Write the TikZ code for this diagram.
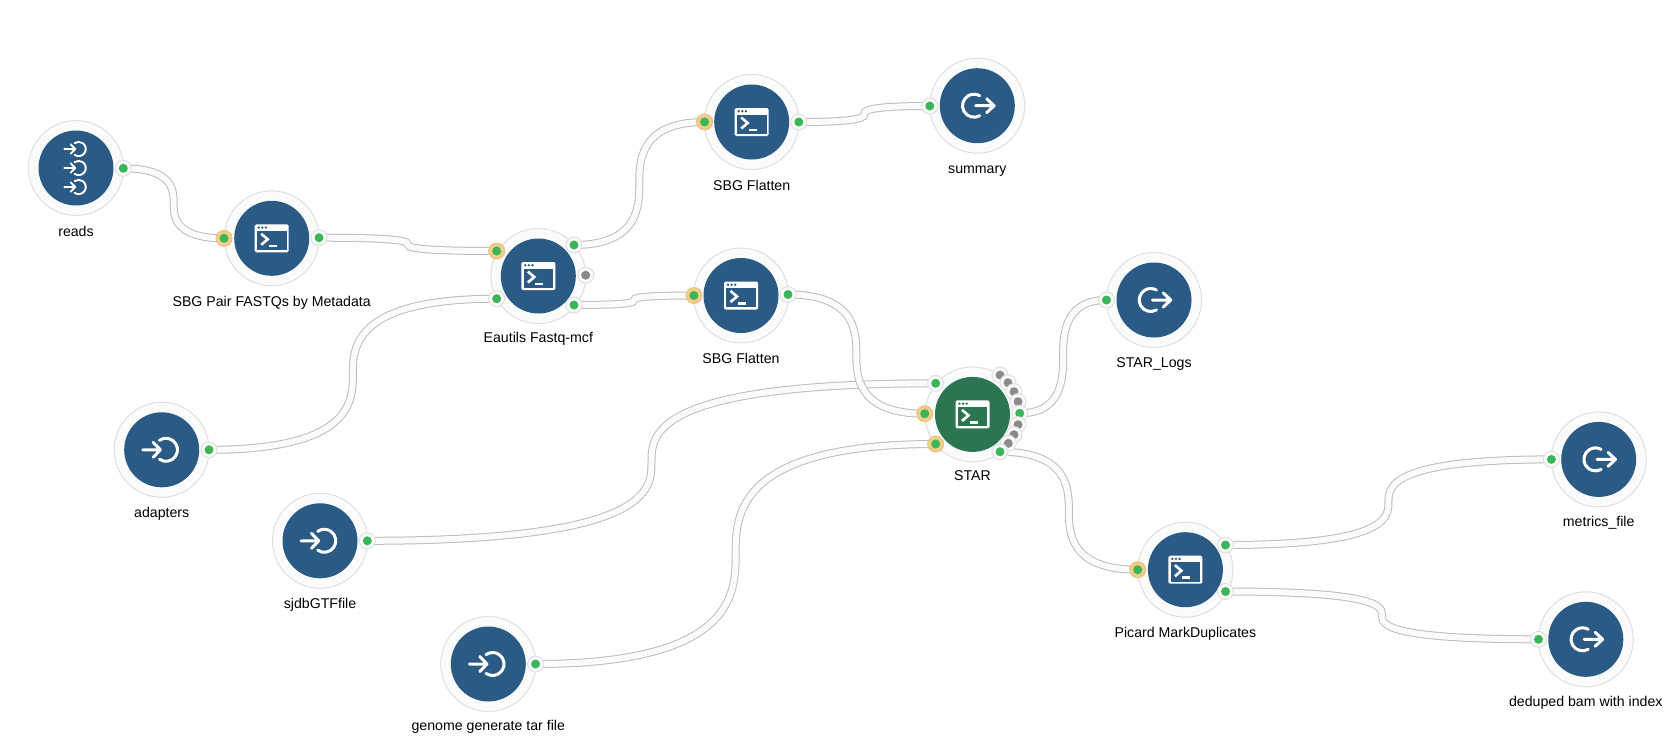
\documentclass[tikz,border=0pt]{standalone}
\usepackage{fontspec}
\setmainfont{Liberation Sans}
\usetikzlibrary{calc,backgrounds}
\definecolor{nodeblue}{HTML}{2B5A84}
\definecolor{nodegreen}{HTML}{2B7551}
\definecolor{ringfill}{HTML}{FAFBFB}
\definecolor{ringline}{HTML}{DFDFDF}
\definecolor{portgreen}{HTML}{3BB557}
\definecolor{portgrey}{HTML}{8C8A8A}
\definecolor{portorange}{HTML}{F2CE87}
\definecolor{portorangeline}{HTML}{E3C48C}
\definecolor{wireline}{HTML}{BDBDBD}
\definecolor{wirefill}{HTML}{FBFBFB}
\tikzset{
  ringnode/.style={circle,draw=ringline,fill=ringfill,line width=1pt,minimum size=95pt,inner sep=0pt},
  disc/.style={circle,fill=#1,minimum size=75pt,inner sep=0pt},
  portbase/.style={circle,draw=ringline,fill=ringfill,line width=1pt,minimum size=16pt,inner sep=0pt},
  portorangebase/.style={circle,draw=portorangeline,fill=portorange,line width=1pt,minimum size=16pt,inner sep=0pt},
  dotgreen/.style={circle,fill=portgreen,minimum size=9pt,inner sep=0pt},
  dotgrey/.style={circle,fill=portgrey,minimum size=9pt,inner sep=0pt},
  lab/.style={font=\fontsize{14.15}{16}\selectfont,text=black,inner sep=0pt},
  wire/.style={draw=wireline,line width=1pt,double=wirefill,double distance=6pt},
  iconline/.style={draw=white,line width=3pt,line cap=round,line join=round},
}
% name, x, y, colour, label, label-offset
\newcommand{\wf}[6]{%
  \node[ringnode] (#1) at (#2,#3) {};
  \node[disc=#4] (#1d) at (#2,#3) {};
  \node[lab] (#1l) at (#2,#3+#6) {#5};
}
\newcommand{\inport}[3]{\node[portbase] (#1) at (#2,#3) {}; \node[dotgreen] (#1g) at (#2,#3) {};}
\newcommand{\orport}[3]{\node[portorangebase] (#1) at (#2,#3) {}; \node[dotgreen] (#1g) at (#2,#3) {};}
\newcommand{\gyport}[3]{\node[portbase] (#1) at (#2,#3) {}; \node[dotgrey] (#1g) at (#2,#3) {};}
\newcommand{\term}[3]{%
  \begin{scope}[shift={(#1,#2)}]
    \fill[white,rounded corners=1.5pt] (-17,-14) rectangle (17,14);
    \fill[#3] (-14.8,-7.5) rectangle (14.8,11.8);
    \foreach \q in {-13,-9.4,-5.8}{\fill[#3] (\q,-10.8) circle (1.3);}
    \draw[white,line width=2.6pt,line cap=butt,line join=miter] (-10.5,-4.5) -- (-4,1) -- (-10.5,6.5);
    \draw[white,line width=2.6pt] (-3,7.8) -- (5,7.8);
  \end{scope}}
\newcommand{\inicon}[3]{%
  \begin{scope}[shift={(#1,#2)},scale=#3]
    \draw[iconline,line width=#3*3pt] (-2.3,9.4) arc[start angle=125,end angle=-125,radius=11.5];
    \draw[iconline,line width=#3*3pt] (-19,0) -- (-1.3,0) (-8.5,-7.5) -- (-1.3,0) -- (-8.5,7.5);
  \end{scope}}
\newcommand{\outicon}[2]{%
  \begin{scope}[shift={(#1,#2)}]
    \draw[iconline] (2.45,9.96) arc[start angle=60,end angle=300,radius=11.5];
    \draw[iconline] (-1.7,0) -- (16.8,0) (9.3,-7) -- (16.8,0) -- (9.3,7);
  \end{scope}}
% wire: two beziers joined at the midpoint
\newcommand{\wireto}[2]{%
  \draw[wire] let \p1=(#1.center),\p2=(#2.center),\n1={0.5*\x1+0.5*\x2},\n2={0.5*\y1+0.5*\y2},
      \n3={0.35*\y1+0.65*\n2},\n4={0.35*\y2+0.65*\n2} in
    (\p1) .. controls (\n1,\y1) and (\n1,\n3) .. (\n1,\n2)
          .. controls (\n1,\n4) and (\n1,\y2) .. (\p2);}
\begin{document}
\begin{tikzpicture}[x=1pt,y=-1pt]
\useasboundingbox (0,0) rectangle (1679,740);
\wf{reads}{76}{168}{nodeblue}{reads}{63}
\wf{pair}{271.7}{238.3}{nodeblue}{SBG Pair FASTQs by Metadata}{64.5}
\wf{eau}{538.3}{276}{nodeblue}{Eautils Fastq-mcf}{63}
\wf{flatA}{751.7}{122}{nodeblue}{SBG Flatten}{63}
\wf{summ}{977.3}{105.7}{nodeblue}{summary}{65.3}
\wf{flatB}{741}{295.5}{nodeblue}{SBG Flatten}{63}
\wf{star}{972.5}{414.4}{nodegreen}{STAR}{61}
\wf{logs}{1154}{300}{nodeblue}{STAR\_Logs}{64}
\wf{adap}{161.7}{449.8}{nodeblue}{adapters}{64}
\wf{gtf}{320}{540.8}{nodeblue}{sjdbGTFfile}{64}
\wf{geno}{488.3}{664}{nodeblue}{genome generate tar file}{63}
\wf{pic}{1185.4}{569.7}{nodeblue}{Picard MarkDuplicates}{64}
\wf{metr}{1598.7}{459.4}{nodeblue}{metrics\_file}{63}
\wf{dedu}{1585.8}{639.3}{nodeblue}{deduped bam with index}{64}
% ports
\inport{readsO}{123.3}{168.3}
\orport{pairI}{224}{238.3}
\inport{pairO}{319}{237.7}
\orport{eauIa}{496.7}{251}
\inport{eauIb}{496.7}{298.7}
\inport{eauOa}{574}{245}
\gyport{eauG}{585.7}{275.2}
\inport{eauOb}{574}{305}
\orport{flatAI}{704.6}{122}
\inport{flatAO}{798.8}{122}
\inport{summI}{929.8}{106}
\orport{flatBI}{693.9}{295.5}
\inport{flatBO}{788}{294.5}
\inport{starIa}{935.7}{383.3}
\orport{starIb}{924.7}{413.7}
\orport{starIc}{935.7}{444}
\gyport{sg1}{1000}{375}
\gyport{sg2}{1008}{382.7}
\gyport{sg3}{1014}{391.7}
\gyport{sg4}{1018}{401.7}
\inport{starOa}{1019.7}{413.3}
\gyport{sg5}{1018}{424.7}
\gyport{sg6}{1014}{434.7}
\gyport{sg7}{1008.3}{443.3}
\inport{starOb}{1000}{451.7}
\inport{logsI}{1106.5}{300}
\inport{adapO}{209}{449.8}
\inport{gtfO}{367.3}{540.8}
\inport{genoO}{535.6}{664}
\orport{picI}{1137.7}{569.7}
\inport{picOa}{1225.5}{545}
\inport{picOb}{1225.5}{591.5}
\inport{metrI}{1551.4}{459.4}
\inport{deduI}{1538.5}{639.3}
% icons
\inicon{76}{149}{0.62}
\inicon{76}{168}{0.62}
\inicon{76}{187}{0.62}
\term{271.7}{238.3}{nodeblue}
\term{538.3}{276}{nodeblue}
\term{751.7}{122}{nodeblue}
\term{741}{295.5}{nodeblue}
\term{972.5}{414.4}{nodegreen}
\term{1185.4}{569.7}{nodeblue}
\inicon{161.7}{449.8}{1}
\inicon{320}{540.8}{1}
\inicon{488.3}{664}{1}
\outicon{977.3}{105.7}
\outicon{1154}{300}
\outicon{1598.7}{459.4}
\outicon{1585.8}{639.3}
% wires
\begin{scope}[on background layer]
\wireto{readsO}{pairI}
\wireto{pairO}{eauIa}
\wireto{adapO}{eauIb}
\wireto{eauOa}{flatAI}
\wireto{eauOb}{flatBI}
\wireto{flatAO}{summI}
\wireto{gtfO}{starIa}
\wireto{genoO}{starIc}
\wireto{flatBO}{starIb}
\wireto{starOa}{logsI}
\wireto{starOb}{picI}
\wireto{picOa}{metrI}
\wireto{picOb}{deduI}
\end{scope}
\end{tikzpicture}
\end{document}
